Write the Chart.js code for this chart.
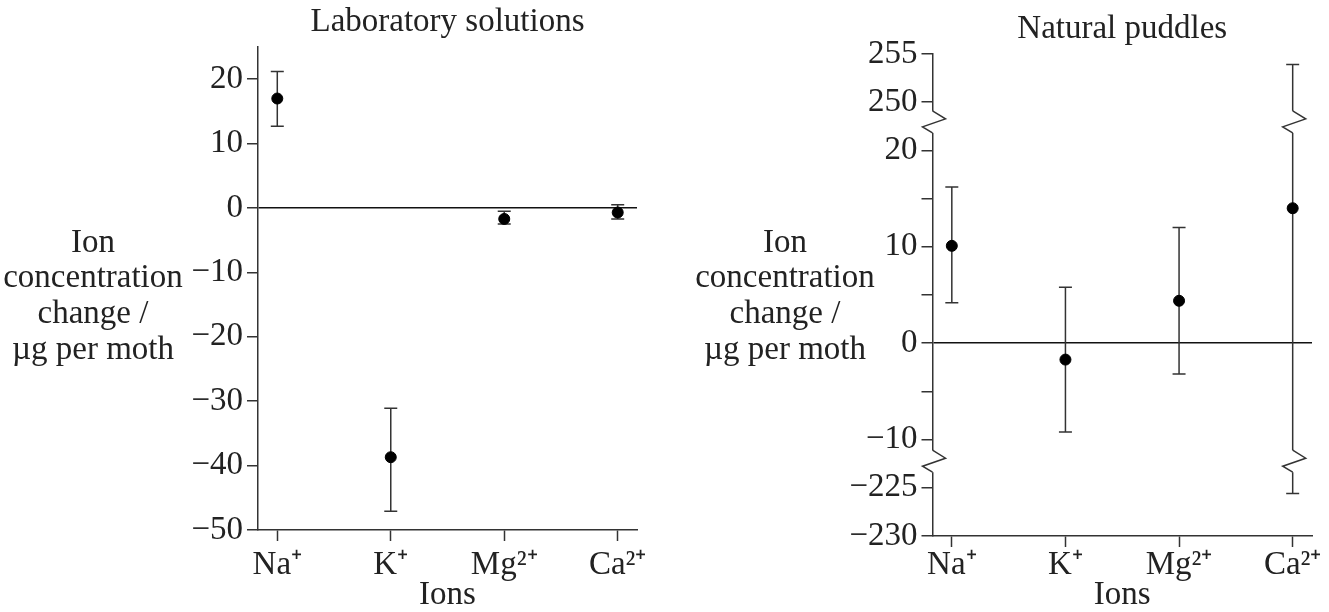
<!DOCTYPE html>
<html>
<head>
<meta charset="utf-8">
<script src="https://cdn.jsdelivr.net/npm/chart.js@4.4.1/dist/chart.umd.min.js"></script>
<style>
  body { margin: 0; background: #fff; }
  canvas { position: absolute; top: 0; }
  #labChart { left: 0; }
  #puddleChart { left: 665px; }
</style>
</head>
<body>
<canvas id="labChart" width="665" height="612"></canvas>
<canvas id="puddleChart" width="664" height="612"></canvas>
<script>
const ions = ["Na⁺", "K⁺", "Mg²⁺", "Ca²⁺"];

// Laboratory solutions (µg per moth)
const labMean = [17.0, -38.7, -1.7, -0.7];
const labLow = [12.7, -47.1, -2.5, -1.7];
const labHigh = [21.2, -31.1, -0.5, 0.5];

// Natural puddles (µg per moth), axis is broken above 20 and below -10
const puddleMean = [10.1, -1.7, 4.4, 14.0];
const puddleLow = [4.2, -9.2, -3.2, -225.6];
const puddleHigh = [16.2, 5.8, 12.0, 253.9];

// tick labels of the broken axis (values on the compressed axis -> shown text)
const puddleTickPos = [-20, -15, -10, 0, 10, 20, 25, 30];
const puddleTickText = ["−230", "−225", "−10", "0", "10", "20", "250", "255"];

const yTitle = ["Ion", "concentration", "change /", "µg per moth"];

const FONT = "'Liberation Serif', 'Times New Roman', serif";
const SIZE = 33;
const INK = "#222";
const AXIS = "#333";

// map a real value onto the compressed puddle axis
function squash(v) {
  if (v > 100) return v - 225;
  if (v < -100) return v + 210;
  return v;
}

function minusSign(v) {
  return String(v).replace("-", "−");
}

function zigzag(ctx, x, y0) {
  // white out the straight piece and draw the break mark
  ctx.save();
  ctx.fillStyle = "#fff";
  ctx.fillRect(x - 3, y0, 6, 22);
  ctx.strokeStyle = AXIS;
  ctx.lineWidth = 1.5;
  ctx.beginPath();
  ctx.moveTo(x, y0);
  ctx.lineTo(x + 13, y0 + 8);
  ctx.lineTo(x - 10, y0 + 16);
  ctx.lineTo(x, y0 + 22);
  ctx.stroke();
  ctx.restore();
}

function errorBarPlugin(low, high, map, breaks) {
  return {
    id: "errorBars",
    beforeDatasetsDraw(chart) {
      const ctx = chart.ctx;
      const xs = chart.scales.x;
      const ys = chart.scales.y;
      ctx.save();
      ctx.strokeStyle = AXIS;
      ctx.lineWidth = 1.5;
      low.forEach((lo, i) => {
        const x = xs.getPixelForValue(i + 1);
        const yLo = ys.getPixelForValue(map(lo));
        const yHi = ys.getPixelForValue(map(high[i]));
        ctx.beginPath();
        ctx.moveTo(x, yLo);
        ctx.lineTo(x, yHi);
        ctx.moveTo(x - 6.5, yLo);
        ctx.lineTo(x + 6.5, yLo);
        ctx.moveTo(x - 6.5, yHi);
        ctx.lineTo(x + 6.5, yHi);
        ctx.stroke();
        breaks.forEach((b) => {
          const yb = ys.getPixelForValue(b);
          if (yb > Math.min(yLo, yHi) && yb + 22 < Math.max(yLo, yHi)) {
            zigzag(ctx, x, yb);
          }
        });
      });
      ctx.restore();
    },
  };
}

function axisBreakPlugin(breaks) {
  return {
    id: "axisBreaks",
    afterDraw(chart) {
      const ys = chart.scales.y;
      breaks.forEach((b) => zigzag(chart.ctx, chart.chartArea.left, ys.getPixelForValue(b)));
    },
  };
}

function yTitlePlugin(cx) {
  return {
    id: "yTitle",
    afterDraw(chart) {
      const ctx = chart.ctx;
      ctx.save();
      ctx.font = SIZE + "px " + FONT;
      ctx.fillStyle = INK;
      ctx.textAlign = "center";
      ctx.textBaseline = "middle";
      yTitle.forEach((line, i) => ctx.fillText(line, cx, 243 + i * 35.7));
      ctx.restore();
    },
  };
}

function buildChart(canvas, cfg) {
  const points = cfg.mean.map((v, i) => ({ x: i + 1, y: cfg.map(v) }));
  return new Chart(canvas, {
    type: "scatter",
    data: {
      datasets: [
        {
          data: points,
          backgroundColor: "#000",
          borderColor: "#000",
          pointRadius: 5.5,
          pointHoverRadius: 5.5,
        },
      ],
    },
    options: {
      responsive: false,
      animation: false,
      layout: { padding: { left: 0, right: cfg.padRight, top: 0, bottom: 0 } },
      plugins: {
        legend: { display: false },
        tooltip: { enabled: false },
        title: {
          display: true,
          text: cfg.title,
          color: INK,
          fullSize: false,
          font: { family: FONT, size: SIZE, weight: "normal", lineHeight: 1 },
          padding: { top: cfg.titleTop, bottom: 8 },
        },
      },
      scales: {
        x: {
          type: "linear",
          min: 0.83,
          max: 4.17,
          afterBuildTicks: (s) => {
            s.ticks = ions.map((_, i) => ({ value: i + 1 }));
          },
          afterFit: (s) => {
            s.height = cfg.xHeight;
          },
          grid: {
            drawOnChartArea: false,
            drawTicks: true,
            tickLength: 11,
            tickColor: AXIS,
            tickWidth: 1.5,
          },
          border: { display: true, color: AXIS, width: 1.5 },
          ticks: {
            color: INK,
            padding: cfg.xPad,
            maxRotation: 0,
            font: { family: FONT, size: SIZE },
            callback: (v) => ions[Math.round(v) - 1],
          },
          title: {
            display: true,
            text: "Ions",
            color: INK,
            font: { family: FONT, size: SIZE, lineHeight: 1 },
            padding: { top: 0, bottom: 0 },
          },
        },
        y: {
          min: cfg.yMin,
          max: cfg.yMax,
          afterBuildTicks: (s) => {
            const t = [];
            for (let v = cfg.yMin; v <= cfg.yMax; v += 5) t.push({ value: v });
            s.ticks = t;
          },
          afterFit: (s) => {
            s.width = cfg.yWidth;
          },
          grid: {
            drawOnChartArea: true,
            drawTicks: true,
            tickLength: 11,
            tickColor: AXIS,
            tickWidth: 1.5,
            lineWidth: 1.5,
            color: (c) => (c.tick && c.tick.value === 0 ? "#111" : "rgba(0,0,0,0)"),
          },
          border: { display: true, color: AXIS, width: 1.5 },
          ticks: {
            color: INK,
            padding: 4,
            font: { family: FONT, size: SIZE },
            callback: cfg.tickLabel,
          },
        },
      },
    },
    plugins: cfg.plugins,
  });
}

buildChart(document.getElementById("labChart"), {
  title: "Laboratory solutions",
  mean: labMean,
  map: (v) => v,
  yMin: -50,
  yMax: 25,
  yWidth: 258,
  xHeight: 82,
  xPad: 5,
  padRight: 28,
  titleTop: 6,
  tickLabel: (v) => (v % 10 === 0 ? minusSign(v) : ""),
  plugins: [errorBarPlugin(labLow, labHigh, (v) => v, []), yTitlePlugin(93)],
});

const puddleBreaks = [24.1, -11.1];

buildChart(document.getElementById("puddleChart"), {
  title: "Natural puddles",
  mean: puddleMean,
  map: squash,
  yMin: -20,
  yMax: 30,
  yWidth: 267.5,
  xHeight: 76,
  xPad: -1,
  padRight: 17,
  titleTop: 13,
  tickLabel: (v) => {
    const k = puddleTickPos.indexOf(v);
    return k >= 0 ? puddleTickText[k] : "";
  },
  plugins: [
    errorBarPlugin(puddleLow, puddleHigh, squash, puddleBreaks),
    axisBreakPlugin(puddleBreaks),
    yTitlePlugin(120),
  ],
});
</script>
</body>
</html>
